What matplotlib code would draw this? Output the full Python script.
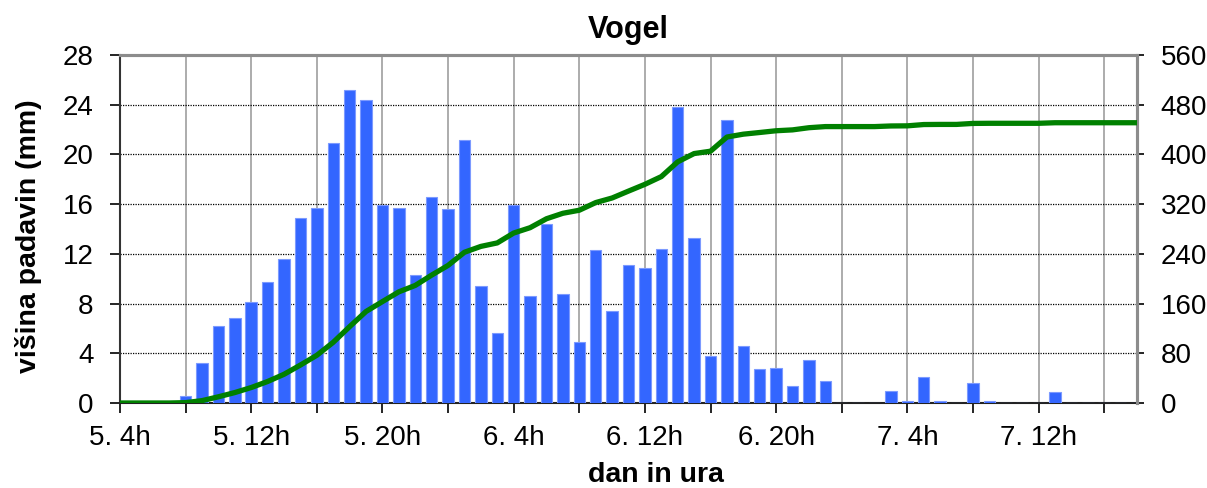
import matplotlib
matplotlib.use("Agg")
import matplotlib.pyplot as plt
import numpy as np

plt.rcParams['font.family'] = ['Liberation Sans', 'DejaVu Sans']

# hourly precipitation (mm), hour 0 = day 5, 4h
hours = list(range(63))
precip = [0, 0, 0, 0, 0.6, 3.2, 6.2, 6.8, 8.1, 9.7,
          11.6, 14.9, 15.7, 20.9, 25.2, 24.4, 15.9, 15.7, 10.3, 16.6,
          15.6, 21.2, 9.4, 5.6, 15.9, 8.6, 14.4, 8.8, 4.9, 12.3,
          7.4, 11.1, 10.9, 12.4, 23.8, 13.3, 3.8, 22.8, 4.6, 2.7,
          2.8, 1.4, 3.5, 1.8, 0, 0, 0, 1.0, 0.2, 2.1,
          0.2, 0, 1.6, 0.2, 0, 0, 0, 0.9, 0, 0,
          0, 0, 0]
cumulative = np.cumsum(precip)

tick_hours = list(range(0, 61, 4))
tick_labels = ["5. 4h", "", "5. 12h", "", "5. 20h", "", "6. 4h", "", "6. 12h", "",
               "6. 20h", "", "7. 4h", "", "7. 12h", ""]
left_ticks = [0, 4, 8, 12, 16, 20, 24, 28]
right_ticks = [0, 80, 160, 240, 320, 400, 480, 560]

W, H = 1207, 488
fig = plt.figure(figsize=(W / 100, H / 100), dpi=100)
ax = fig.add_axes([120 / W, 1 - 403 / H, (1137 - 120) / W, (403 - 55) / H])

ax.bar(hours, precip, width=0.7, color='#3366FF', edgecolor='#7C9AFF',
       linewidth=0.8, zorder=3)
ax.set_xlim(0, 62)
ax.set_ylim(0, 28)
ax.set_yticks(left_ticks)
ax.set_xticks(tick_hours)
ax.set_xticklabels(tick_labels)

ax.yaxis.grid(True, linestyle=(0, (1, 1)), color='black', linewidth=0.9, zorder=1)
ax.xaxis.grid(True, linestyle='-', color='#A6A6A6', linewidth=1.3, zorder=1)
ax.set_axisbelow(True)

ax.tick_params(axis='y', direction='out', length=7, width=1.2, labelsize=20, pad=12)
ax.tick_params(axis='x', direction='out', length=7, width=1.2, labelsize=20, pad=9)

for s in ['top', 'right']:
    ax.spines[s].set_color('#8C8C8C')
    ax.spines[s].set_linewidth(2.2)
ax.spines['left'].set_color('#333333')
ax.spines['left'].set_linewidth(1.5)
ax.spines['bottom'].set_color('#222222')
ax.spines['bottom'].set_linewidth(1.5)

ax2 = ax.twinx()
ax2.plot(hours, cumulative, color='#008000', linewidth=3.8, zorder=4,
         solid_capstyle='butt')
ax2.set_ylim(0, 560)
ax2.set_yticks(right_ticks)
ax2.tick_params(axis='y', direction='out', length=5, width=1.2, labelsize=20, pad=12)
for s in ['top', 'right']:
    ax2.spines[s].set_color('#8C8C8C')
    ax2.spines[s].set_linewidth(2.2)
ax2.spines['left'].set_visible(False)
ax2.spines['bottom'].set_visible(False)

ax.set_title("Vogel", fontsize=22, fontweight='bold', pad=12)
ax.set_xlabel("dan in ura", fontsize=20.5, fontweight='bold')
ax.xaxis.set_label_coords((656 - 120) / 1017, -0.17)
ax.set_ylabel("višina padavin (mm)", fontsize=20.5, fontweight='bold')
ax.yaxis.set_label_coords(-0.077, 0.48)

fig.savefig("out.png", dpi=100)
